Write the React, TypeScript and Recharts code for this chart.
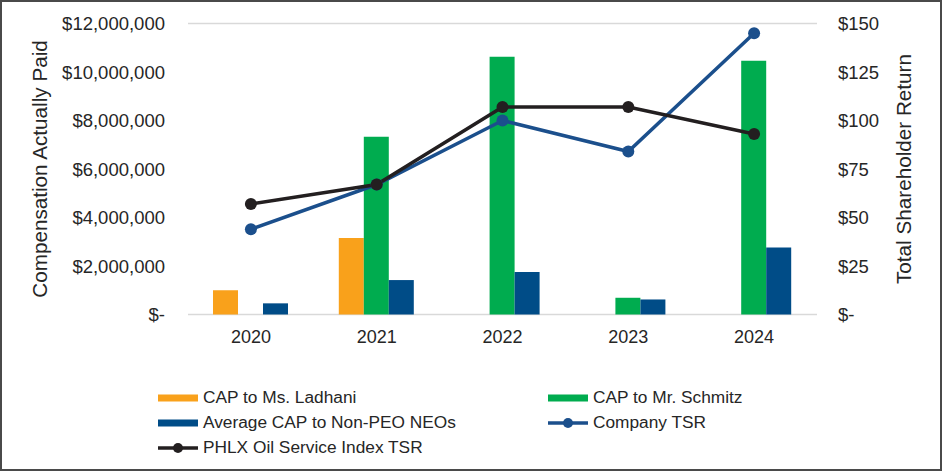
import React from 'react';
import { ComposedChart, Bar, Line, XAxis, YAxis, CartesianGrid, Legend } from 'recharts';

const years = ['2020', '2021', '2022', '2023', '2024'];
const capLadhani = [1000000, 3150000, null, null, null];
const capSchmitz = [null, 7330000, 10630000, 690000, 10460000];
const capNonPeo = [460000, 1420000, 1750000, 620000, 2760000];
const companyTsr = [44, 67, 100, 84, 145];
const phlxTsr = [57, 67, 107, 107, 93];

const leftTicks = [0, 2000000, 4000000, 6000000, 8000000, 10000000, 12000000];
const rightTicks = [0, 25, 50, 75, 100, 125, 150];

const legendOrder = [
  'CAP to Ms. Ladhani',
  'CAP to Mr. Schmitz',
  'Average CAP to Non-PEO NEOs',
  'Company TSR',
  'PHLX Oil Service Index TSR',
];

const data = years.map((year, i) => ({
  year,
  ladhani: capLadhani[i],
  schmitz: capSchmitz[i],
  nonPeo: capNonPeo[i],
  tsr: companyTsr[i],
  phlx: phlxTsr[i],
}));

const FONT = '"Liberation Sans", Arial, sans-serif';
const TEXT = '#262626';
const LEGEND_H = 80;

const fmtMoney = (v: number) => (v === 0 ? '$-' : '$' + v.toLocaleString('en-US'));

// legend drawn in two columns like the original
const renderLegend = (props: any) => {
  const payload = [...(props.payload || [])].sort(
    (a: any, b: any) => legendOrder.indexOf(a.value) - legendOrder.indexOf(b.value)
  );
  return (
    <div style={{ position: 'relative', width: 942, height: LEGEND_H, fontFamily: FONT, fontSize: 17.3, color: TEXT }}>
      {payload.map((entry: any, i: number) => {
        const col = i % 2;
        const row = Math.floor(i / 2);
        const isLine = entry.type === 'line';
        return (
          <div
            key={entry.value}
            style={{
              position: 'absolute',
              left: col === 0 ? 158 : 548,
              top: row * 25,
              height: 25,
              display: 'flex',
              alignItems: 'center',
              whiteSpace: 'nowrap',
            }}
          >
            <svg width={40} height={14} style={{ marginRight: 5 }}>
              {isLine ? (
                <>
                  <line x1={0} y1={7} x2={40} y2={7} stroke={entry.color} strokeWidth={3.5} />
                  <circle cx={20} cy={7} r={5} fill={entry.color} />
                </>
              ) : (
                <rect x={0} y={3.5} width={40} height={7} fill={entry.color} />
              )}
            </svg>
            <span>{entry.value}</span>
          </div>
        );
      })}
    </div>
  );
};

export default function App() {
  return (
    <div style={{ position: 'absolute', left: 0, top: 0, width: 942, height: 471, background: '#fff' }}>
      <ComposedChart
        width={942}
        height={471}
        data={data}
        margin={{ top: 23.5, right: 0, left: 0, bottom: 126.5 - LEGEND_H }}
        barGap={0}
        barSize={25}
      >
        <CartesianGrid vertical={false} stroke="#d9d9d9" strokeWidth={1.5} />
        <XAxis
          dataKey="year"
          axisLine={false}
          tickLine={false}
          tickMargin={10}
          height={30}
          tick={{ fill: TEXT, fontSize: 18, fontFamily: FONT }}
        />
        <YAxis
          yAxisId="left"
          orientation="left"
          width={188}
          domain={[0, 12000000]}
          ticks={leftTicks}
          tickFormatter={fmtMoney}
          axisLine={false}
          tickLine={false}
          tickMargin={17}
          tick={{ fill: TEXT, fontSize: 18.5, fontFamily: FONT }}
          label={{
            value: 'Compensation Actually Paid',
            angle: -90,
            position: 'insideLeft',
            offset: 40,
            style: { textAnchor: 'middle', fill: TEXT, fontSize: 20.7, fontFamily: FONT },
          }}
        />
        <YAxis
          yAxisId="right"
          orientation="right"
          width={125}
          domain={[0, 150]}
          ticks={rightTicks}
          tickFormatter={(v: number) => (v === 0 ? '$-' : '$' + v)}
          axisLine={false}
          tickLine={false}
          tickMargin={15}
          tick={{ fill: TEXT, fontSize: 18.5, fontFamily: FONT, textAnchor: 'start' }}
          label={{
            value: 'Total Shareholder Return',
            angle: -90,
            position: 'insideRight',
            offset: 38,
            style: { textAnchor: 'middle', fill: TEXT, fontSize: 20.7, fontFamily: FONT },
          }}
        />
        <Legend
          content={renderLegend}
          wrapperStyle={{ position: 'absolute', left: 0, top: 385, width: 942 }}
        />
        <Bar yAxisId="left" dataKey="ladhani" name="CAP to Ms. Ladhani" fill="#F9A11B" isAnimationActive={false} />
        <Bar yAxisId="left" dataKey="schmitz" name="CAP to Mr. Schmitz" fill="#00AC4F" isAnimationActive={false} />
        <Bar yAxisId="left" dataKey="nonPeo" name="Average CAP to Non-PEO NEOs" fill="#004C87" isAnimationActive={false} />
        <Line
          yAxisId="right"
          dataKey="tsr"
          name="Company TSR"
          stroke="#1B4F8C"
          strokeWidth={3.5}
          dot={{ r: 6, fill: '#1B4F8C', stroke: '#1B4F8C', strokeWidth: 0 }}
          legendType="line"
          isAnimationActive={false}
        />
        <Line
          yAxisId="right"
          dataKey="phlx"
          name="PHLX Oil Service Index TSR"
          stroke="#231F20"
          strokeWidth={3.5}
          dot={{ r: 6, fill: '#231F20', stroke: '#231F20', strokeWidth: 0 }}
          legendType="line"
          isAnimationActive={false}
        />
      </ComposedChart>
      <div
        style={{
          position: 'absolute',
          left: 0,
          top: 0,
          width: 942,
          height: 471,
          boxSizing: 'border-box',
          border: '2px solid #4a4a4a',
          pointerEvents: 'none',
        }}
      />
    </div>
  );
}
